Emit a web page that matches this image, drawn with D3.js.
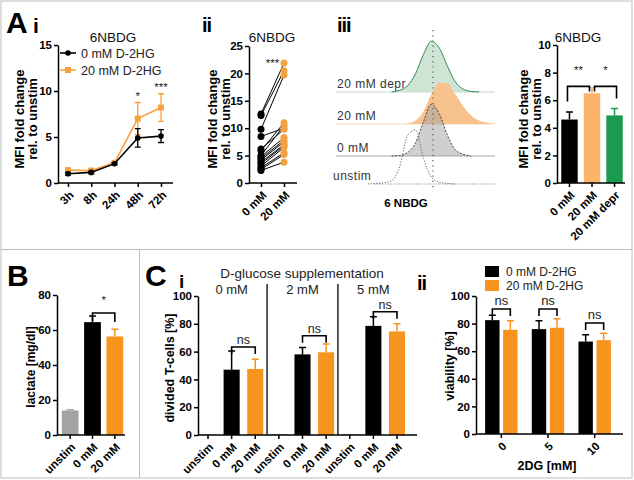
<!DOCTYPE html>
<html>
<head>
<meta charset="utf-8">
<script src="https://cdn.jsdelivr.net/npm/d3@7"></script>
<style>
  body { margin: 0; background: #fff; }
</style>
</head>
<body>
<svg id="fig" width="634" height="480"></svg>
<script>
// ---- data ----
// A i: time course
const timeLabels = ["3h", "8h", "24h", "48h", "72h"];
const mfiCtrl = [1.0, 1.15, 2.1, 4.9, 5.1];
const mfiCtrlErr = [0.15, 0.15, 0.1, 1.0, 0.7];
const mfiHG = [1.4, 1.35, 2.2, 7.0, 8.2];
const mfiHGErr = [0.15, 0.1, 0.1, 1.75, 1.5];
const timeStars = ["", "", "", "*", "***"];
const legendLabels = ["0 mM D-2HG", "20 mM D-2HG"];

// A ii: paired donors
const pairLabels = ["0 mM", "20 mM"];
const pairCtrl = [12.6, 12.3, 9.8, 8.5, 6.2, 5.9, 5.0, 4.8, 4.5, 4.2, 3.8, 3.5, 3.1, 2.8, 2.5, 2.3];
const pairHG = [21.9, 20.5, 19.7, 10.0, 9.8, 11.0, 10.5, 8.3, 7.8, 7.5, 7.0, 6.8, 6.5, 5.5, 5.2, 3.8];

// A iii: histograms (relative counts per fluorescence bin)
const histBins = [0, 5, 10, 15, 20, 25, 30, 35, 40, 45, 50, 55, 60, 65, 70, 75, 80, 85, 90, 95, 100];
const histRows = ["20 mM depr", "20 mM", "0 mM", "unstim"];
const histDepr = [0, 0, 0, 0, 0, 0, 0, 0, 0.03, 0.11, 0.32, 0.66, 0.89, 0.77, 0.46, 0.18, 0.05, 0.01, 0, 0, 0];
const histHG = [0, 0, 0, 0, 0, 0, 0, 0, 0, 0.01, 0.06, 0.22, 0.52, 0.73, 0.71, 0.52, 0.31, 0.15, 0.06, 0.02, 0];
const histCtrl = [0, 0, 0, 0, 0, 0, 0, 0, 0.01, 0.06, 0.23, 0.6, 0.91, 0.74, 0.37, 0.11, 0.03, 0, 0, 0, 0];
const histUnstim = [0, 0, 0, 0, 0, 0.01, 0.02, 0.06, 0.3, 0.85, 0.95, 0.45, 0.12, 0.03, 0.01, 0, 0, 0, 0, 0, 0];
const histMarker = 61;

// A iv
const barA4Labels = ["0 mM", "20 mM", "20 mM depr"];
const barA4Vals = [4.6, 6.5, 4.9];
const barA4Err = [0.55, 0.4, 0.5];
const sigA4Labels = ["**", "*"];
const sigA4Top = [7.0, 7.0];

// B: lactate
const lacLabels = ["unstim", "0 mM", "20 mM"];
const lacVals = [14, 64.5, 56.3];
const lacErr = [0.4, 3.5, 4.2];
const lacSigTop = 69.7;

// C i: divided T-cells
const glucoseGroups = ["0 mM", "2 mM", "5 mM"];
const condLabels = ["unstim", "0 mM", "20 mM"];
const dividedVals = [0.3, 47, 47.5, 0.5, 58, 59.5, 0.5, 78.5, 74.5];
const dividedErr = [0, 13.5, 7, 0, 5, 6, 0, 6.5, 5.5];
const dividedSigTop = [63.3, 71.4, 88.7];

// C ii: viability
const dgLabels = ["0", "5", "10"];
const viaCtrl = [82.5, 76, 67];
const viaCtrlErr = [3.5, 6, 5];
const viaHG = [75.5, 77, 68];
const viaHGErr = [6.5, 6.5, 5];
const viaSigTop = [90.6, 90.6, 80.4];

// ---- drawing ----
const FONT = "'Liberation Sans', Arial, sans-serif";
const ORANGE = "#f7941d";
const TICK = 11.5;
const svg = d3.select("#fig").attr("font-family", FONT);

function txt(x, y, s, size, o = {}) {
  const t = svg.append("text").attr("x", x).attr("y", y).text(s)
    .attr("font-size", size)
    .attr("font-weight", o.bold ? "bold" : "normal")
    .attr("fill", o.fill || "#111")
    .attr("text-anchor", o.anchor || "start");
  if (o.rotate) t.attr("transform", `rotate(-90,${x},${y})`);
  if (o.spacing) t.attr("letter-spacing", o.spacing);
  return t;
}

function leftAxis(x, y, ticks) {
  const g = svg.append("g").attr("transform", `translate(${x},0)`)
    .call(d3.axisLeft(y).tickValues(ticks).tickSize(4).tickSizeOuter(0).tickPadding(2));
  g.selectAll(".domain, .tick line").attr("stroke", "#000").attr("stroke-width", 1.5);
  g.selectAll("text").attr("font-size", TICK).attr("font-weight", "bold").attr("fill", "#000");
  return g;
}

function bottomAxis(y0, x, x0, x1, fmt) {
  const g = svg.append("g").attr("transform", `translate(0,${y0})`)
    .call(d3.axisBottom(x).tickSize(4).tickSizeOuter(0).tickFormat(fmt));
  g.select(".domain").remove();
  g.append("line").attr("x1", x0).attr("x2", x1).attr("stroke", "#000").attr("stroke-width", 1.5);
  g.selectAll(".tick line").attr("stroke", "#000").attr("stroke-width", 1.5);
  g.selectAll("text").attr("font-size", TICK).attr("font-weight", "bold").attr("fill", "#000")
    .attr("text-anchor", "end").attr("x", 0).attr("y", 0).attr("dy", "0.35em")
    .attr("transform", "translate(3,10) rotate(-45)");
  return g;
}

function bars(cx, w, y, vals, errs, colors) {
  vals.forEach((v, i) => {
    const c = colors[i];
    svg.append("rect").attr("x", cx[i] - w / 2).attr("width", w)
      .attr("y", y(v)).attr("height", y(0) - y(v)).attr("fill", c);
    if (errs[i] > 0) {
      svg.append("path")
        .attr("d", `M${cx[i]},${y(v)}V${y(v + errs[i])}M${cx[i] - 3.5},${y(v + errs[i])}H${cx[i] + 3.5}`)
        .attr("stroke", c).attr("stroke-width", 1.5).attr("fill", "none");
    }
  });
}

function bracket(xa, xb, yTop, legA, legB, label, size, gap) {
  svg.append("path").attr("d", `M${xa},${yTop + legA}V${yTop}H${xb}V${yTop + legB}`)
    .attr("stroke", "#000").attr("stroke-width", 1.6).attr("fill", "none");
  txt((xa + xb) / 2, yTop - gap, label, size, { anchor: "middle", fill: "#222" });
}

// frame
svg.append("rect").attr("x", 1).attr("y", 1).attr("width", 631).attr("height", 477)
  .attr("fill", "none").attr("stroke", "#bdbdbd");
svg.append("line").attr("x1", 1).attr("x2", 632).attr("y1", 249.5).attr("y2", 249.5).attr("stroke", "#bdbdbd");
svg.append("line").attr("x1", 139.5).attr("x2", 139.5).attr("y1", 249.5).attr("y2", 478).attr("stroke", "#bdbdbd");

// panel letters
txt(6, 33, "A", 30, { bold: true, fill: "#000" });
txt(33, 33, "i", 21, { bold: true, fill: "#000" });
txt(202, 32, "ii", 20, { bold: true, fill: "#000", spacing: -1 });
txt(337, 32, "iii", 20, { bold: true, fill: "#000", spacing: -1 });
txt(7, 286, "B", 30, { bold: true, fill: "#000" });
txt(145, 286, "C", 30, { bold: true, fill: "#000" });
txt(179, 288, "i", 19, { bold: true, fill: "#000" });
txt(417, 290, "ii", 20, { bold: true, fill: "#000", spacing: -1 });

// ---- A i ----
{
  const x = d3.scalePoint().domain(timeLabels).range([68, 161]);
  const y = d3.scaleLinear().domain([0, 15]).range([183, 45]);
  leftAxis(58, y, [0, 5, 10, 15]);
  bottomAxis(183, x, 58, 173, d => d);
  txt(113, 42, "6NBDG", 13.5, { anchor: "middle" });
  txt(24, 119, "MFI fold change", 13, { bold: true, anchor: "middle", rotate: true, fill: "#000" });
  txt(37, 119, "rel. to unstim", 13, { bold: true, anchor: "middle", rotate: true, fill: "#000" });

  const line = d3.line().x((d, i) => x(timeLabels[i])).y(d => y(d));
  const series = [
    { vals: mfiHG, errs: mfiHGErr, color: "#f7a040", square: true },
    { vals: mfiCtrl, errs: mfiCtrlErr, color: "#000", square: false }
  ];
  series.forEach(s => {
    s.vals.forEach((v, i) => {
      const cx = x(timeLabels[i]);
      svg.append("path")
        .attr("d", `M${cx},${y(v - s.errs[i])}V${y(v + s.errs[i])}M${cx - 3},${y(v + s.errs[i])}H${cx + 3}M${cx - 3},${y(v - s.errs[i])}H${cx + 3}`)
        .attr("stroke", s.color).attr("stroke-width", 1.3).attr("fill", "none");
    });
    svg.append("path").datum(s.vals).attr("d", line)
      .attr("stroke", s.color).attr("stroke-width", 1.6).attr("fill", "none");
    s.vals.forEach((v, i) => {
      const cx = x(timeLabels[i]);
      if (s.square) svg.append("rect").attr("x", cx - 3).attr("y", y(v) - 3).attr("width", 6).attr("height", 6).attr("fill", s.color);
      else svg.append("circle").attr("cx", cx).attr("cy", y(v)).attr("r", 2.8).attr("fill", s.color);
    });
  });
  timeStars.forEach((s, i) => {
    if (!s) return;
    const top = Math.max(mfiHG[i] + mfiHGErr[i], mfiCtrl[i] + mfiCtrlErr[i]);
    txt(x(timeLabels[i]), y(top) - 3, s, 11.5, { anchor: "middle", fill: "#222" });
  });
  // legend
  [["#000", false], ["#f7a040", true]].forEach(([c, sq], i) => {
    const ly = 53 + i * 17;
    svg.append("line").attr("x1", 60).attr("x2", 76).attr("y1", ly).attr("y2", ly).attr("stroke", c).attr("stroke-width", 1.6);
    if (sq) svg.append("rect").attr("x", 65).attr("y", ly - 3).attr("width", 6).attr("height", 6).attr("fill", c);
    else svg.append("circle").attr("cx", 68).attr("cy", ly).attr("r", 2.8).attr("fill", c);
    txt(81, ly + 4.5, legendLabels[i], 12.5, { fill: "#222" });
  });
}

// ---- A ii ----
{
  const x = d3.scalePoint().domain(pairLabels).range([261, 284]);
  const y = d3.scaleLinear().domain([0, 25]).range([183, 46]);
  leftAxis(249, y, [0, 5, 10, 15, 20, 25]);
  bottomAxis(183, x, 249, 297, d => d);
  txt(272, 42, "6NBDG", 13.5, { anchor: "middle" });
  txt(217, 119, "MFI fold change", 13, { bold: true, anchor: "middle", rotate: true, fill: "#000" });
  txt(230, 119, "rel. to unstim", 13, { bold: true, anchor: "middle", rotate: true, fill: "#000" });
  pairCtrl.forEach((v, i) => {
    svg.append("line").attr("x1", x("0 mM")).attr("x2", x("20 mM"))
      .attr("y1", y(v)).attr("y2", y(pairHG[i])).attr("stroke", "#000").attr("stroke-width", 1);
  });
  pairCtrl.forEach(v => svg.append("circle").attr("cx", x("0 mM")).attr("cy", y(v)).attr("r", 3.5).attr("fill", "#000"));
  pairHG.forEach(v => svg.append("circle").attr("cx", x("20 mM")).attr("cy", y(v)).attr("r", 3.5).attr("fill", "#f5a042"));
  txt(272.5, 67, "***", 11.5, { anchor: "middle", fill: "#222" });
}

// ---- A iii ----
{
  const x = d3.scaleLinear().domain([0, 100]).range([336, 495]);
  const baselines = [92, 124, 156, 184];
  const h = d3.scaleLinear().domain([0, 1]).range([0, 57]);
  const styles = [
    { data: histDepr, fill: "#cfe4d4", stroke: "#2e8b57", dash: null, base: "#c9d6cc", opacity: 1 },
    { data: histHG, fill: "#f8c28c", stroke: "none", dash: null, base: "#f3d9bc", opacity: 1 },
    { data: histCtrl, fill: "#a0a0a0", stroke: "#444", dash: "2,1.5", base: "#a8a8a8", opacity: 0.5 },
    { data: histUnstim, fill: "none", stroke: "#666", dash: "1.2,1.6", base: null, opacity: 1 }
  ];
  styles.forEach((s, r) => {
    const b = baselines[r];
    if (s.base) svg.append("line").attr("x1", 336).attr("x2", 495).attr("y1", b).attr("y2", b)
      .attr("stroke", s.base).attr("stroke-width", 1.2);
    else svg.append("line").attr("x1", 374).attr("x2", 495).attr("y1", b).attr("y2", b)
      .attr("stroke", "#888").attr("stroke-width", 1).attr("stroke-dasharray", "1.2,1.6");
    const nz = s.data.map((d, i) => i).filter(i => s.data[i] > 0);
    const lo = Math.max(0, nz[0] - 1), hi = Math.min(s.data.length - 1, nz[nz.length - 1] + 1);
    const sub = s.data.slice(lo, hi + 1);
    const areaS = d3.area().curve(d3.curveMonotoneX)
      .x((d, i) => x(histBins[lo + i])).y0(b).y1(d => b - h(d));
    const lnS = d3.line().curve(d3.curveMonotoneX)
      .x((d, i) => x(histBins[lo + i])).y(d => b - h(d));
    if (s.fill !== "none") svg.append("path").datum(sub).attr("d", areaS)
      .attr("fill", s.fill).attr("fill-opacity", s.opacity);
    if (s.stroke !== "none") svg.append("path").datum(sub).attr("d", lnS)
      .attr("fill", "none").attr("stroke", s.stroke).attr("stroke-width", 1)
      .attr("stroke-dasharray", s.dash);
    txt(r === 3 ? 333 : 337, b - 4, histRows[r], 12, { fill: "#333", spacing: 0.5 });
  });
  svg.append("line").attr("x1", x(histMarker)).attr("x2", x(histMarker)).attr("y1", 30).attr("y2", 190)
    .attr("stroke", "#555").attr("stroke-width", 1.2).attr("stroke-dasharray", "1.2,4");
  txt(406, 207, "6 NBDG", 11.5, { bold: true, anchor: "middle", fill: "#000" });
}

// ---- A iv ----
{
  const x = d3.scaleBand().domain(barA4Labels).range([559, 625]).paddingInner(0.27).paddingOuter(0.1);
  const y = d3.scaleLinear().domain([0, 10]).range([183, 45]);
  const cx = barA4Labels.map(d => x(d) + x.bandwidth() / 2);
  bars(cx, x.bandwidth(), y, barA4Vals, barA4Err, ["#000", "#fbb469", "#1b9a52"]);
  leftAxis(557, y, [0, 2, 4, 6, 8, 10]);
  bottomAxis(183, x, 557, 625, d => d);
  txt(578, 42, "6NBDG", 13.5, { anchor: "middle" });
  txt(528, 119, "MFI fold change", 13, { bold: true, anchor: "middle", rotate: true, fill: "#000" });
  txt(541, 119, "rel. to unstim", 13, { bold: true, anchor: "middle", rotate: true, fill: "#000" });
  bracket(cx[0] - 2, cx[1] - 2.5, y(sigA4Top[0]), 15, 5, sigA4Labels[0], 11.5, 12);
  bracket(cx[1] + 2.5, cx[2] + 2, y(sigA4Top[1]), 5, 12, sigA4Labels[1], 11.5, 12);
}

// ---- B ----
{
  const x = d3.scaleBand().domain(lacLabels).range([59, 126]).paddingInner(0.25).paddingOuter(0.125);
  const y = d3.scaleLinear().domain([0, 80]).range([435, 295]);
  const cx = lacLabels.map(d => x(d) + x.bandwidth() / 2);
  bars(cx, x.bandwidth(), y, lacVals, lacErr, ["#a3a3a3", "#000", ORANGE]);
  leftAxis(57, y, [0, 20, 40, 60, 80]);
  bottomAxis(435, x, 57, 125, d => d);
  txt(35, 367, "lactate [mg/dl]", 12, { bold: true, anchor: "middle", rotate: true, fill: "#000" });
  bracket(cx[1], cx[2], y(lacSigTop), 8, 9, "*", 11.5, 9);
}

// ---- C i ----
{
  const keys = [];
  glucoseGroups.forEach(g => condLabels.forEach(c => keys.push(g + "|" + c)));
  const x = d3.scaleBand().domain(keys).range([196.2, 408.8]).paddingInner(0.32).paddingOuter(0.16);
  const y = d3.scaleLinear().domain([0, 100]).range([435, 296]);
  const cx = keys.map(d => x(d) + x.bandwidth() / 2);
  const cols = keys.map((d, i) => ["#999", "#000", ORANGE][i % 3]);
  bars(cx, x.bandwidth(), y, dividedVals, dividedErr, cols);
  leftAxis(198, y, [0, 20, 40, 60, 80, 100]);
  bottomAxis(435, x, 198, 417, d => d.split("|")[1]);
  txt(174, 368, "divided T-cells [%]", 12.5, { bold: true, anchor: "middle", rotate: true, fill: "#000" });
  txt(302, 278, "D-glucose supplementation", 13.5, { anchor: "middle", fill: "#222" });
  glucoseGroups.forEach((g, gi) => {
    const mid = cx[gi * 3 + 1];
    txt(mid, 294, g, 13, { anchor: "middle", fill: "#222" });
    if (gi > 0) {
      const sx = (cx[gi * 3 - 1] + cx[gi * 3]) / 2;
      svg.append("line").attr("x1", sx).attr("x2", sx).attr("y1", 284).attr("y2", 435)
        .attr("stroke", "#000").attr("stroke-width", 1.3);
    }
    bracket(cx[gi * 3 + 1], cx[gi * 3 + 2], y(dividedSigTop[gi]), 7, 7, "ns", 12.5, 3);
  });
}

// ---- C ii ----
{
  const x0 = d3.scaleBand().domain(dgLabels).range([478, 618]);
  const x1 = d3.scaleBand().domain(legendLabels).range([0, 32.4]).paddingInner(0.2);
  const y = d3.scaleLinear().domain([0, 100]).range([434, 296]);
  const gc = dgLabels.map(d => x0(d) + x0.bandwidth() / 2);
  const cxA = gc.map(c => c - 16.2 + x1(legendLabels[0]) + x1.bandwidth() / 2);
  const cxB = gc.map(c => c - 16.2 + x1(legendLabels[1]) + x1.bandwidth() / 2);
  bars(cxA, x1.bandwidth(), y, viaCtrl, viaCtrlErr, ["#000", "#000", "#000"]);
  bars(cxB, x1.bandwidth(), y, viaHG, viaHGErr, [ORANGE, ORANGE, ORANGE]);
  leftAxis(476, y, [0, 20, 40, 60, 80, 100]);
  bottomAxis(434, x0, 476, 623, d => d);
  txt(454, 366, "viability [%]", 12.5, { bold: true, anchor: "middle", rotate: true, fill: "#000" });
  txt(547, 470, "2DG [mM]", 12.5, { bold: true, anchor: "middle", fill: "#000" });
  dgLabels.forEach((d, i) => bracket(cxA[i], cxB[i], y(viaSigTop[i]), 7, 7, "ns", 13, 4));
  // legend
  [["#000"], [ORANGE]].forEach(([c], i) => {
    const ly = 266 + i * 14;
    svg.append("rect").attr("x", 485).attr("y", ly).attr("width", 14).attr("height", 11).attr("fill", c);
    txt(506, ly + 10, legendLabels[i], 12, { fill: "#222" });
  });
}
</script>
</body>
</html>
